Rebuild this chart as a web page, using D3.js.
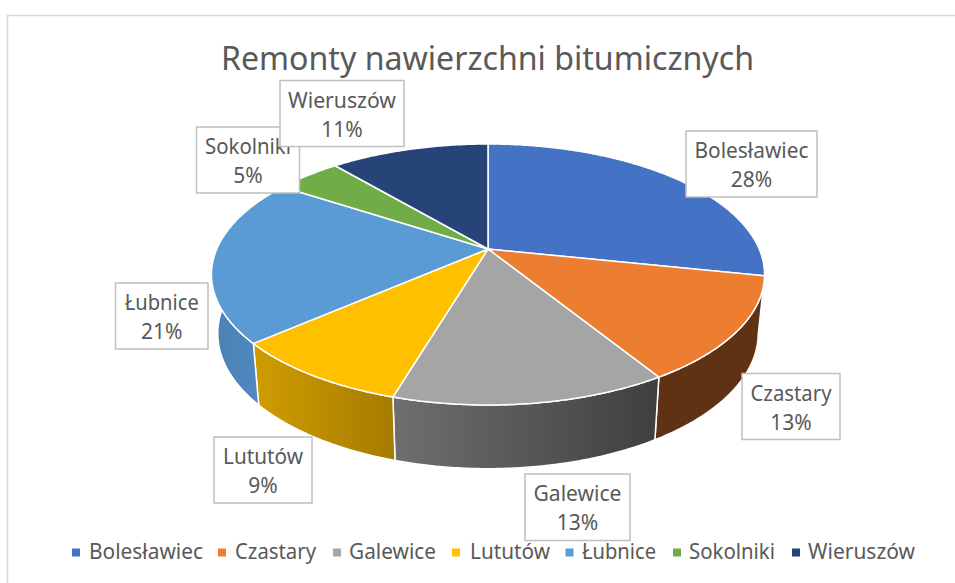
<!DOCTYPE html>
<html><head><meta charset="utf-8">
<style>html,body{margin:0;padding:0;background:#fff}svg{display:block}text{font-family:"Noto Sans","Open Sans",sans-serif}</style>
<script src="https://cdn.jsdelivr.net/npm/d3@7"></script>
</head><body><svg id="c" width="955" height="583"></svg>
<script>
const chartTitle = "Remonty nawierzchni bitumicznych";
const categories = ["Bolesławiec","Czastary","Galewice","Lututów","Łubnice","Sokolniki","Wieruszów"];
const values = [28.3,12.9,13.4,9.0,20.6,4.6,11.2];
const colors = ["#4472c4","#ed7d31","#a5a5a5","#ffc000","#5b9bd5","#70ad47","#264478"];
const wallFrom = ["#2f5597","#5f3214","#6f6f6f","#cf9c00","#4a80b3","#4c7a30","#1a2f54"];
const wallTo   = ["#2f5597","#5f3214","#3f3f3f","#a67c00","#5089c0","#4c7a30","#1a2f54"];
// layout (separate from data)
const labelBoxes = [[686,131,131,66],[742,373.5,98,66],[525,474,105,66.5],[214,437,98,66],[115.5,283,92.5,66],[196.5,127,103,66],[280,80.5,124,66]];
const labelWidths = [114,81,88,80,74,86,108];
const legendMarkerX = [72,218,333,452,565.5,673,792];
const legendTextX = [89,235,349,470,582,689,808];
const legendWidths = [114,81,87,80,74,86,107];

const svg = d3.select("#c");
const color = d3.scaleOrdinal(categories, colors);
const slices = d3.pie().sort(null).value(d => d.value)(categories.map((name,i)=>({name,value:values[i],i})));
const total = d3.sum(values);
const pct = d3.format(".0f");

const top_ = {cx:488,cy:249,R:271.2,S:125.5,k:0.1954};
const bot_ = {cx:488,cy:307,R:265,S:130.1,k:0.1954};
const proj = (p,a)=>{const u=Math.sin(a),v=-Math.cos(a),w=1-p.k*v;return [p.cx+p.R*u/w,p.cy+p.S*v/w];};
const arcPts = (p,a0,a1)=>{const n=Math.max(2,Math.ceil((a1-a0)/0.01));return d3.range(n+1).map(i=>proj(p,a0+(a1-a0)*i/n));};
const line = d3.line();
const defs = svg.append("defs");

// chart frame
svg.append("path").attr("d","M7.5,583V15.5H955").attr("fill","none").attr("stroke","#d9d9d9").attr("stroke-width",1.5);

// title
svg.append("text").attr("x",487.5).attr("y",69.5).attr("text-anchor","middle").attr("font-size",32.5)
  .attr("fill","#595959").attr("textLength",533).attr("lengthAdjust","spacingAndGlyphs").text(chartTitle);

// walls
const wallMin = 1.4, wallMax = 5.0;
slices.forEach(s=>{
  const a0=Math.max(s.startAngle,wallMin),a1=Math.min(s.endAngle,wallMax);
  if(a1<=a0) return;
  const id="w"+s.data.i;
  const g=defs.append("linearGradient").attr("id",id);
  g.append("stop").attr("offset",0).attr("stop-color",wallFrom[s.data.i]);
  g.append("stop").attr("offset",1).attr("stop-color",wallTo[s.data.i]);
  const pts=arcPts(top_,a0,a1).concat(arcPts(bot_,a0,a1).reverse());
  svg.append("path").attr("d",line(pts)+"Z").attr("fill",`url(#${id})`).attr("stroke","#fff").attr("stroke-width",1.5).attr("stroke-linejoin","round");
});
// top face
svg.append("g").selectAll("path").data(slices).join("path")
  .attr("d",s=>line([[top_.cx,top_.cy]].concat(arcPts(top_,s.startAngle,s.endAngle)))+"Z")
  .attr("fill",s=>color(s.data.name)).attr("stroke","#fff").attr("stroke-width",1.5).attr("stroke-linejoin","round");

// data labels
const lab = svg.append("g").selectAll("g").data(slices).join("g");
lab.append("rect").attr("x",s=>labelBoxes[s.data.i][0]).attr("y",s=>labelBoxes[s.data.i][1])
  .attr("width",s=>labelBoxes[s.data.i][2]).attr("height",s=>labelBoxes[s.data.i][3])
  .attr("fill","#fff").attr("stroke","#bfbfbf").attr("stroke-width",1.5);
lab.append("text").attr("x",s=>labelBoxes[s.data.i][0]+labelBoxes[s.data.i][2]/2).attr("y",s=>labelBoxes[s.data.i][1]+27)
  .attr("text-anchor","middle").attr("font-size",21).attr("fill","#595959")
  .attr("textLength",s=>labelWidths[s.data.i]).attr("lengthAdjust","spacingAndGlyphs").text(s=>s.data.name);
lab.append("text").attr("x",s=>labelBoxes[s.data.i][0]+labelBoxes[s.data.i][2]/2).attr("y",s=>labelBoxes[s.data.i][1]+56)
  .attr("text-anchor","middle").attr("font-size",21).attr("fill","#595959")
  .text(s=>pct(s.data.value/total*100)+"%");

// legend
const leg = svg.append("g").selectAll("g").data(categories).join("g");
leg.append("rect").attr("x",(d,i)=>legendMarkerX[i]).attr("y",548.5).attr("width",8).attr("height",8).attr("fill",d=>color(d));
leg.append("text").attr("x",(d,i)=>legendTextX[i]).attr("y",558.5).attr("font-size",21).attr("fill","#595959")
  .attr("textLength",(d,i)=>legendWidths[i]).attr("lengthAdjust","spacingAndGlyphs").text(d=>d);
</script></body></html>
